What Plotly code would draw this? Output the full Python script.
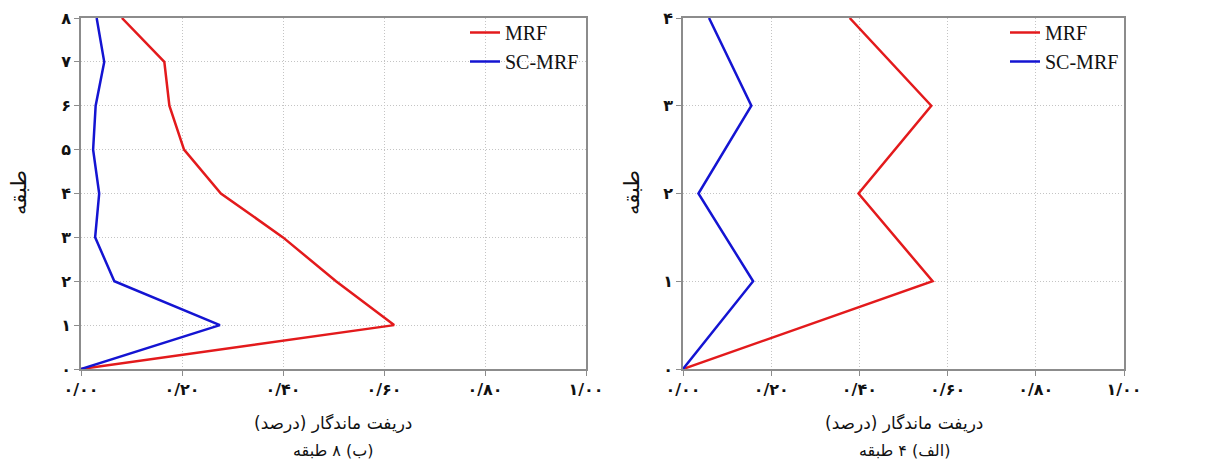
import plotly.graph_objects as go

# ---- data ----
floors8 = [0, 1, 2, 3, 4, 5, 6, 7, 8]
mrf8 = [0.0, 0.620, 0.505, 0.400, 0.277, 0.204, 0.175, 0.165, 0.081]
scmrf8 = [0.0, 0.275, 0.066, 0.028, 0.036, 0.024, 0.029, 0.046, 0.031]

floors4 = [0, 1, 2, 3, 4]
mrf4 = [0.0, 0.566, 0.398, 0.563, 0.378]
scmrf4 = [0.0, 0.159, 0.035, 0.155, 0.059]

x_tickvals = [0.0, 0.2, 0.4, 0.6, 0.8, 1.0]
x_ticktext = ["۰/۰۰", "۰/۲۰", "۰/۴۰", "۰/۶۰", "۰/۸۰", "۱/۰۰"]
y8_ticktext = ["۰", "۱", "۲", "۳", "۴", "۵", "۶", "۷", "۸"]
y4_ticktext = ["۰", "۱", "۲", "۳", "۴"]

series_names = ["MRF", "SC-MRF"]
series_colors = ["#e31a1c", "#1414d2"]

x_title = "\u202Bدریفت ماندگار (درصد)\u202C"
y_title = "طبقه"
caption_left = "\u202B(ب) ۸ طبقه\u202C"
caption_right = "\u202B(الف) ۴ طبقه\u202C"

# page has an 8px body margin; figure sized to fit the 1216x471 window
OFF = 8
W, H = 1200, 455
fig = go.Figure()

# left panel (8 storey)
for name, vals, col in zip(series_names, [mrf8, scmrf8], series_colors):
    fig.add_trace(go.Scatter(x=vals, y=floors8, mode="lines", name=name,
                             line=dict(color=col, width=2.5),
                             xaxis="x", yaxis="y", legend="legend"))
# right panel (4 storey)
for name, vals, col in zip(series_names, [mrf4, scmrf4], series_colors):
    fig.add_trace(go.Scatter(x=vals, y=floors4, mode="lines", name=name,
                             line=dict(color=col, width=2.5),
                             xaxis="x2", yaxis="y2", legend="legend2"))

def px_x(p):
    return (p - OFF) / W

def px_y(p):
    return 1 - (p - OFF) / H

axis_common = dict(showline=True, linecolor="#8c8c8c", linewidth=1.5, mirror=True,
                   showgrid=True, gridcolor="#c4c4c4", griddash="1px,2px", gridwidth=1,
                   ticks="outside", ticklen=5, tickcolor="#8c8c8c",
                   zeroline=False, automargin=False,
                   tickfont=dict(family="DejaVu Sans", size=16, color="#111"))

left_dom = [px_x(81), px_x(586)]
right_dom = [px_x(683), px_x(1124)]
y_dom = [px_y(369), px_y(18)]

def bold(lst):
    return ["<b>" + t + "</b>" for t in lst]

legend_font = dict(family="Liberation Serif", size=20, color="#111")

fig.update_layout(
    width=W, height=H,
    margin=dict(l=0, r=0, t=0, b=0),
    paper_bgcolor="white", plot_bgcolor="white",
    xaxis=dict(domain=left_dom, range=[0, 1], tickvals=x_tickvals, ticktext=bold(x_ticktext),
               anchor="y", **axis_common),
    yaxis=dict(domain=y_dom, range=[0, 8], tickvals=floors8, ticktext=bold(y8_ticktext),
               anchor="x", **axis_common),
    xaxis2=dict(domain=right_dom, range=[0, 1], tickvals=x_tickvals, ticktext=bold(x_ticktext),
                anchor="y2", **axis_common),
    yaxis2=dict(domain=y_dom, range=[0, 4], tickvals=floors4, ticktext=bold(y4_ticktext),
                anchor="x2", **axis_common),
    legend=dict(x=px_x(584), y=px_y(13), xanchor="right", yanchor="top",
                bgcolor="rgba(255,255,255,0)", borderwidth=0, font=legend_font,
                itemwidth=30, tracegroupgap=0),
    legend2=dict(x=px_x(1124), y=px_y(13), xanchor="right", yanchor="top",
                 bgcolor="rgba(255,255,255,0)", borderwidth=0, font=legend_font,
                 itemwidth=30, tracegroupgap=0),
    showlegend=True,
)

# white backing boxes behind the legends (hide gridlines there, as in the source)
for x0, x1 in [(453, 583), (1006, 1123)]:
    fig.add_shape(type="rect", xref="paper", yref="paper",
                  x0=px_x(x0), x1=px_x(x1), y0=px_y(72), y1=px_y(21),
                  fillcolor="white", line=dict(width=0), layer="between")

ann_font = dict(family="DejaVu Sans", size=17, color="#111")
cap_font = dict(family="DejaVu Sans", size=16, color="#111")
ytitle_font = dict(family="DejaVu Sans", size=21, color="#111")
annotations = [
    dict(text=x_title, x=px_x(333), y=px_y(423), xref="paper", yref="paper",
         showarrow=False, font=ann_font, xanchor="center", yanchor="middle"),
    dict(text=caption_left, x=px_x(333), y=px_y(450), xref="paper", yref="paper",
         showarrow=False, font=cap_font, xanchor="center", yanchor="middle"),
    dict(text=x_title, x=px_x(904), y=px_y(423), xref="paper", yref="paper",
         showarrow=False, font=ann_font, xanchor="center", yanchor="middle"),
    dict(text=caption_right, x=px_x(904), y=px_y(450), xref="paper", yref="paper",
         showarrow=False, font=cap_font, xanchor="center", yanchor="middle"),
    dict(text=y_title, x=px_x(19), y=px_y(193), xref="paper", yref="paper",
         showarrow=False, font=ytitle_font, textangle=-90, xanchor="center", yanchor="middle"),
    dict(text=y_title, x=px_x(632), y=px_y(193), xref="paper", yref="paper",
         showarrow=False, font=ytitle_font, textangle=-90, xanchor="center", yanchor="middle"),
]
fig.update_layout(annotations=annotations)

fig.write_html("out.html")
